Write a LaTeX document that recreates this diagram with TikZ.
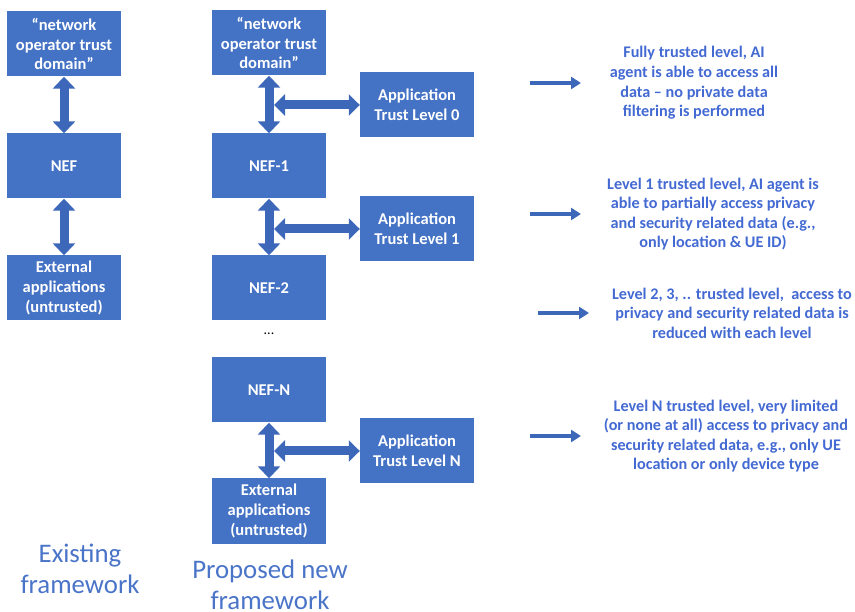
\documentclass[tikz,border=0pt]{standalone}
\usepackage{fontspec}
\setmainfont{Carlito}
\usetikzlibrary{arrows.meta}
\definecolor{boxblue}{HTML}{4472C4}
\definecolor{arrowblue}{HTML}{3D67B9}
\definecolor{noteblue}{HTML}{4369D2}
\definecolor{labelblue}{HTML}{4A74C8}
\tikzset{
  box/.style={fill=boxblue, draw=none, text=white, minimum width=114pt,
    minimum height=65pt, inner sep=2pt, align=center,
    font=\fontsize{16.5}{19.8}\selectfont\bfseries},
  fatlink/.style={draw=arrowblue, line width=9pt,
    {Triangle[width=22pt,length=12pt]}-{Triangle[width=22pt,length=12pt]}},
  sidelink/.style={draw=arrowblue, line width=9pt,
    {Triangle[width=21pt,length=11pt]}-{Triangle[width=21pt,length=11pt]}},
  pointer/.style={draw=arrowblue, line width=3.4pt,
    -{Triangle[width=12pt,length=10pt]}},
  note/.style={text=noteblue, align=center, inner sep=0pt,
    font=\fontsize{16.2}{19.6}\selectfont\bfseries},
  caption/.style={text=labelblue, align=center, inner sep=0pt,
    font=\fontsize{26.8}{31}\selectfont}
}
\begin{document}
\begin{tikzpicture}[x=1pt, y=-1pt]
  \useasboundingbox (0,0) rectangle (855,612);

  % existing framework
  \node[box] (ldom) at (64,44) {“network\\operator trust\\domain”};
  \node[box] (lnef) at (64,166) {NEF};
  \node[box] (lext) at (64,288) {External\\applications\\(untrusted)};
  \draw[fatlink] (ldom.south) -- (lnef.north);
  \draw[fatlink] (lnef.south) -- (lext.north);

  % proposed framework: chain of NEF levels
  \node[box] (dom)  at (269,43)  {“network\\operator trust\\domain”};
  \node[box] (nef1) at (269,166) {NEF-1};
  \node[box] (nef2) at (269,288) {NEF-2};
  \node (dots) at (269,334) {\fontsize{14}{16}\selectfont ...};
  \node[box] (nefn) at (269,390) {NEF-N};
  \node[box] (ext)  at (269,511) {External\\applications\\(untrusted)};
  \draw[fatlink] (dom.south) -- (nef1.north);
  \draw[fatlink] (nef1.south) -- (nef2.north);
  \draw[fatlink] (nefn.south) -- (ext.north);

  % application trust levels
  \node[box] (app0) at (417,105) {Application\\Trust Level 0};
  \node[box] (app1) at (417,229) {Application\\Trust Level 1};
  \node[box] (appn) at (417,451) {Application\\Trust Level N};
  \coordinate (j0) at (274,105);
  \coordinate (j1) at (274,229);
  \coordinate (jn) at (274,451);
  \draw[sidelink] (j0) -- (app0.west);
  \draw[sidelink] (j1) -- (app1.west);
  \draw[sidelink] (jn) -- (appn.west);

  % level descriptions
  \coordinate (p0a) at (530,83);  \coordinate (p0b) at (581,83);
  \coordinate (p1a) at (530,214); \coordinate (p1b) at (581,214);
  \coordinate (p2a) at (538,313); \coordinate (p2b) at (589,313);
  \coordinate (p3a) at (530,436); \coordinate (p3b) at (581,436);
  \draw[pointer] (p0a) -- (p0b);
  \draw[pointer] (p1a) -- (p1b);
  \draw[pointer] (p2a) -- (p2b);
  \draw[pointer] (p3a) -- (p3b);
  \node[note] (t0) at (694,83) {Fully trusted level, AI\\agent is able to access all\\data – no private data\\filtering is performed};
  \node[note] (t1) at (713,214) {Level 1 trusted level, AI agent is\\able to partially access privacy\\and security related data (e.g.,\\only location \& UE ID)};
  \node[note] (t2) at (732,313) {Level 2, 3, .. trusted level,~ access to\\privacy and security related data is\\reduced with each level};
  \node[note] (t3) at (726,436) {Level N trusted level, very limited\\(or none at all) access to privacy and\\security related data, e.g., only UE\\location or only device type};

  % column captions
  \node[caption] (capl) at (80,569) {Existing\\framework};
  \node[caption] (capr) at (270,585) {Proposed new\\framework};
\end{tikzpicture}
\end{document}
